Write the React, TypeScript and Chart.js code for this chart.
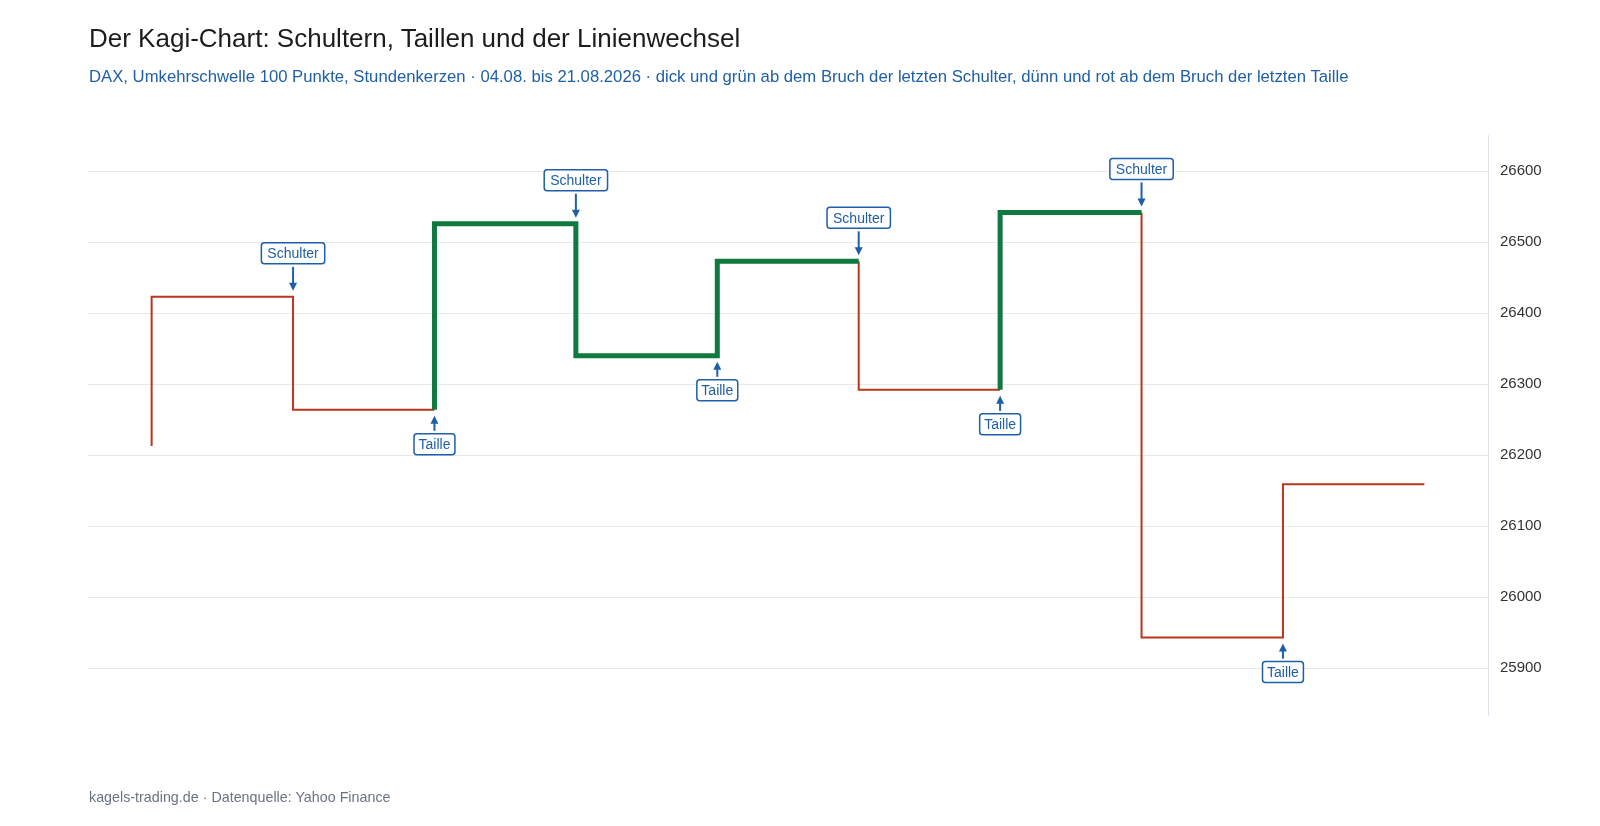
import { useEffect, useRef } from 'react';
import { Chart, registerables } from 'chart.js';
import type { Plugin, ChartDataset } from 'chart.js';

Chart.register(...registerables);

const FONT = '"Liberation Sans", Arial, Helvetica, sans-serif';
const BLUE = '#1e5fa8';
const RED = '#b8361d';
const GREEN = '#10793f';

// Kagi-Linie: Startkurs, dann je Spalte das Niveau, bei dem die Linie umkehrt
const startLevel = 26213;
const reversalLevels = [26423, 26264, 26526, 26340, 26473, 26292, 26542, 25943, 26159];

// Spalten mit Markierung (Schulter = Hoch vor Abwärtslinie, Taille = Tief vor Aufwärtslinie)
const shoulderColumns = [1, 3, 5, 7];
const waistColumns = [2, 4, 6, 8];

// yang (dick, grün) / yin (dünn, rot) je Spalte nach den Kagi-Regeln
function kagiStates(start: number, levels: number[]) {
  const states: boolean[] = [];
  let yang = false;
  let shoulder: number | null = null;
  let waist: number | null = null;
  levels.forEach((level, i) => {
    const prev = i === 0 ? start : levels[i - 1];
    if (level > prev) {
      if (shoulder !== null && level > shoulder) yang = true;
      shoulder = level;
    } else {
      if (waist !== null && level < waist) yang = false;
      waist = level;
    }
    states.push(yang);
  });
  return states;
}

function buildDatasets(): ChartDataset<'line'>[] {
  const states = kagiStates(startLevel, reversalLevels);
  const sets: ChartDataset<'line'>[] = [];
  let i = 0;
  while (i < reversalLevels.length) {
    const yang = states[i];
    const pts: { x: number; y: number }[] = [
      { x: i, y: i === 0 ? startLevel : reversalLevels[i - 1] },
    ];
    while (i < reversalLevels.length && states[i] === yang) {
      pts.push({ x: i, y: reversalLevels[i] });
      pts.push({ x: i + 1, y: reversalLevels[i] });
      i++;
    }
    sets.push({
      data: pts,
      borderColor: yang ? GREEN : RED,
      borderWidth: yang ? 5 : 2,
      borderJoinStyle: 'miter',
      borderCapStyle: 'butt',
      pointRadius: 0,
      tension: 0,
      fill: false,
      order: yang ? 0 : 1,
    });
  }
  return sets;
}

function drawMarker(ctx: CanvasRenderingContext2D, text: string, px: number, py: number, above: boolean) {
  const h = 21;
  const w = ctx.measureText(text).width + (above ? 12 : 9);
  const top = above ? py - 54 : py + 24;
  const tail = above ? py - 30 : py + 21;
  const tip = above ? py - 6 : py + 6;
  const dir = above ? 1 : -1;

  ctx.strokeStyle = BLUE;
  ctx.fillStyle = BLUE;
  ctx.lineWidth = 2;
  ctx.beginPath();
  ctx.moveTo(px, tail);
  ctx.lineTo(px, tip - dir * 5);
  ctx.stroke();
  ctx.beginPath();
  ctx.moveTo(px, tip);
  ctx.lineTo(px - 4, tip - dir * 8);
  ctx.lineTo(px + 4, tip - dir * 8);
  ctx.closePath();
  ctx.fill();

  ctx.beginPath();
  ctx.roundRect(px - w / 2, top, w, h, 3);
  ctx.fillStyle = '#ffffff';
  ctx.fill();
  ctx.lineWidth = 1.5;
  ctx.stroke();
  ctx.fillStyle = BLUE;
  ctx.fillText(text, px, top + h / 2 + 1);
}

const markerPlugin: Plugin<'line'> = {
  id: 'kagiMarkers',
  afterDatasetsDraw(chart) {
    const { ctx } = chart;
    const x = chart.scales.x;
    const y = chart.scales.y;
    ctx.save();
    ctx.font = `14px ${FONT}`;
    ctx.textAlign = 'center';
    ctx.textBaseline = 'middle';
    shoulderColumns.forEach((c) => {
      drawMarker(ctx, 'Schulter', x.getPixelForValue(c), y.getPixelForValue(reversalLevels[c - 1]), true);
    });
    waistColumns.forEach((c) => {
      drawMarker(ctx, 'Taille', x.getPixelForValue(c), y.getPixelForValue(reversalLevels[c - 1]), false);
    });
    ctx.restore();
  },
};

function KagiChart() {
  const canvasRef = useRef<HTMLCanvasElement>(null);

  useEffect(() => {
    if (!canvasRef.current) return;
    const chart = new Chart(canvasRef.current, {
      type: 'line',
      data: { datasets: buildDatasets() },
      options: {
        responsive: false,
        animation: false,
        layout: { padding: { left: 88, top: 135, right: 32, bottom: 111 } },
        plugins: {
          legend: { display: false },
          tooltip: { enabled: false },
        },
        scales: {
          x: { type: 'linear', min: -0.45, max: 9.45, display: false },
          y: {
            position: 'right',
            min: 25834,
            max: 26651,
            afterFit: (scale) => {
              scale.width = 80;
            },
            grid: { color: '#e6e9ee', drawTicks: false },
            border: { color: '#dde3ea' },
            ticks: {
              stepSize: 100,
              includeBounds: false,
              padding: 12,
              color: '#333333',
              font: { family: FONT, size: 15 },
              callback: (v) => String(v),
            },
          },
        },
      },
      plugins: [markerPlugin],
    });
    return () => chart.destroy();
  }, []);

  return (
    <canvas
      ref={canvasRef}
      width={1600}
      height={826}
      style={{ position: 'absolute', left: 0, top: 0, width: 1600, height: 826 }}
    />
  );
}

export default function App() {
  return (
    <div
      style={{
        position: 'absolute',
        left: 0,
        top: 0,
        width: 1600,
        height: 826,
        background: '#ffffff',
        fontFamily: FONT,
      }}
    >
      <KagiChart />
      <div style={{ position: 'absolute', left: 89, top: 25, fontSize: 26, lineHeight: 1, color: '#1c1c1c', whiteSpace: 'nowrap' }}>
        Der Kagi-Chart: Schultern, Taillen und der Linienwechsel
      </div>
      <div style={{ position: 'absolute', left: 89, top: 69.4, fontSize: 16.7, lineHeight: 1, color: BLUE, whiteSpace: 'nowrap' }}>
        DAX, Umkehrschwelle 100 Punkte, Stundenkerzen · 04.08. bis 21.08.2026 · dick und grün ab dem Bruch der letzten
        Schulter, dünn und rot ab dem Bruch der letzten Taille
      </div>
      <div style={{ position: 'absolute', left: 89, top: 790, fontSize: 14.3, lineHeight: 1, color: '#6b7280', whiteSpace: 'nowrap' }}>
        kagels-trading.de · Datenquelle: Yahoo Finance
      </div>
    </div>
  );
}
